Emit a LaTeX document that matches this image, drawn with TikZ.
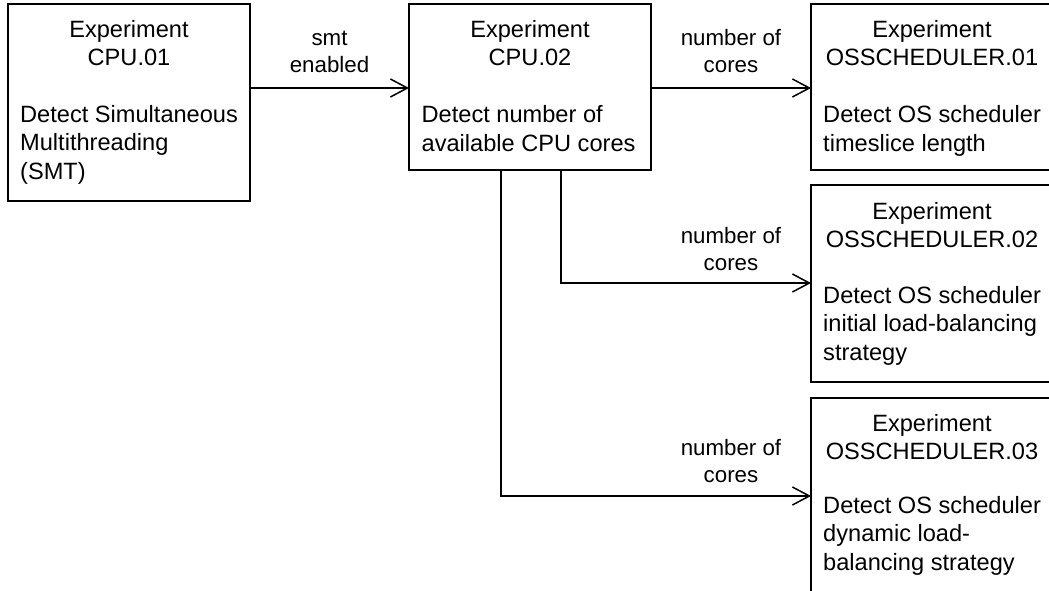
\documentclass[tikz,border=0pt]{standalone}
\usepackage{fontspec}
\setmainfont{Liberation Sans}
\usetikzlibrary{arrows.meta}
\tikzset{
  expbox/.style={draw, line width=1.5pt, inner sep=0pt, outer sep=0pt, anchor=north west, minimum width=242pt},
  head/.style={anchor=base, align=center, inner sep=0pt, font=\fontsize{23.6}{28}\selectfont},
  body/.style={anchor=base west, align=left, inner sep=0pt, font=\fontsize{23.6}{28.3}\selectfont},
  lbl/.style={anchor=base, align=center, inner sep=0pt, font=\fontsize{22.3}{27}\selectfont},
  conn/.style={line width=1.5pt, -{Straight Barb[length=17pt,width=18pt,line width=1.5pt]}}
}
\begin{document}
\begin{tikzpicture}[x=1pt,y=-1pt]
\useasboundingbox (0,0) rectangle (1049,591);
\clip (0,0) rectangle (1049,591);
% boxes
\node[expbox, minimum height=197pt] (b1) at (8,4) {};
\node[expbox, minimum height=166pt] (b2) at (409,4) {};
\node[expbox, minimum height=166pt] (b3) at (811,4) {};
\node[expbox, minimum height=197pt] (b4) at (811,185) {};
\node[expbox, minimum height=205pt] (b5) at (811,398) {};
% texts (anchored at the baseline of their last line)
\node[head] (b1h) at ([yshift=-62pt]b1.north) {Experiment\\CPU.01};
\node[body] (b1t) at ([xshift=12pt,yshift=-175pt]b1.north west) {Detect Simultaneous\\Multithreading\\(SMT)};
\node[head] (b2h) at ([yshift=-62pt]b2.north) {Experiment\\CPU.02};
\node[body] (b2t) at ([xshift=12.5pt,yshift=-147pt]b2.north west) {Detect number of\\available CPU cores};
\node[head] (b3h) at ([yshift=-62pt]b3.north) {Experiment\\OSSCHEDULER.01};
\node[body] (b3t) at ([xshift=12pt,yshift=-147pt]b3.north west) {Detect OS scheduler\\timeslice length};
\node[head] (b4h) at ([yshift=-62pt]b4.north) {Experiment\\OSSCHEDULER.02};
\node[body] (b4t) at ([xshift=12pt,yshift=-175pt]b4.north west) {Detect OS scheduler\\initial load-balancing\\strategy};
\node[head] (b5h) at ([yshift=-61pt]b5.north) {Experiment\\OSSCHEDULER.03};
\node[body] (b5t) at ([xshift=12pt,yshift=-172pt]b5.north west) {Detect OS scheduler\\dynamic load-\\balancing strategy};
% connectors
\coordinate (r1) at (0,88);
\coordinate (c3) at (561,283);
\coordinate (c4) at (501,496);
\draw[conn] (b1.east |- r1) -- (b2.west |- r1);
\draw[conn] (b2.east |- r1) -- (b3.west |- r1);
\draw[conn] (b2.south -| c3) -- (c3) -- (b4.west |- c3);
\draw[conn] (b2.south -| c4) -- (c4) -- (b5.west |- c4);
% labels
\node[lbl] (l1) at (329.5,73) {smt\\enabled};
\node[lbl] (l2) at (731,73) {number of\\cores};
\node[lbl] (l3) at (731,270) {number of\\cores};
\node[lbl] (l4) at (731,482) {number of\\cores};
\end{tikzpicture}
\end{document}
